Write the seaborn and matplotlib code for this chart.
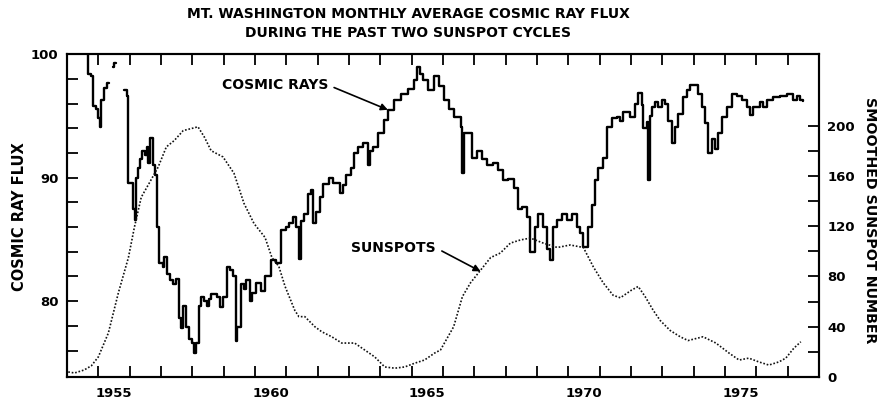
import numpy as np
import pandas as pd
import matplotlib
matplotlib.use('Agg')
import matplotlib.pyplot as plt
import seaborn as sns
from matplotlib.ticker import FixedLocator, FixedFormatter, NullFormatter

nan = np.nan

# Monthly cosmic ray flux (Mt. Washington); nan = data gap
cr_year = [
    1954.00, 1954.68, 1954.76, 1954.84, 1954.92,
    1955.00, 1955.04, 1955.10, 1955.19, 1955.27, 1955.35, nan, 1955.47, 1955.51, 1955.55, nan, 1955.83, 1955.90, 1955.96,
    1956.08, 1956.12, 1956.16, 1956.20, 1956.25, 1956.33, 1956.40, 1956.48, 1956.55, 1956.60, 1956.66, 1956.74, 1956.80, 1956.88, 1956.94,
    1957.05, 1957.10, 1957.20, 1957.28, 1957.38, 1957.48, 1957.58, 1957.64, 1957.69, 1957.79, 1957.88, 1957.98,
    1958.04, 1958.12, 1958.20, 1958.28, 1958.38, 1958.46, 1958.52, 1958.60, 1958.72, 1958.80, 1958.88, 1958.98,
    1959.10, 1959.20, 1959.30, 1959.38, 1959.44, 1959.55, 1959.64, 1959.72, 1959.84, 1959.92,
    1960.04, 1960.20, 1960.32, 1960.44, 1960.50, 1960.66, 1960.84,
    1961.00, 1961.10, 1961.20, 1961.32, 1961.42, 1961.48, 1961.55, 1961.68, 1961.80, 1961.86, 1961.94,
    1962.06, 1962.17, 1962.35, 1962.50, 1962.70, 1962.80, 1962.90,
    1963.06, 1963.15, 1963.28, 1963.44, 1963.60, 1963.68, 1963.76, 1963.92,
    1964.11, 1964.24, 1964.43, 1964.65, 1964.87,
    1965.06, 1965.16, 1965.26, 1965.35, 1965.51, 1965.70, 1965.86,
    1966.02, 1966.18, 1966.34, 1966.56, 1966.62, 1966.68, 1966.78, 1966.94,
    1967.10, 1967.26, 1967.42, 1967.58, 1967.74, 1967.90,
    1968.06, 1968.25, 1968.38, 1968.53, 1968.69, 1968.79, 1968.95,
    1969.04, 1969.20, 1969.33, 1969.43, 1969.52, 1969.65, 1969.81, 1969.97,
    1970.13, 1970.29, 1970.38, 1970.48, 1970.64, 1970.76, 1970.86, 1970.96,
    1971.11, 1971.24, 1971.40, 1971.56, 1971.66, 1971.75, 1971.97,
    1972.13, 1972.23, 1972.36, 1972.39, 1972.52, 1972.55, 1972.61, 1972.68, 1972.77, 1972.87, 1972.99,
    1973.09, 1973.18, 1973.31, 1973.41, 1973.50, 1973.66, 1973.79, 1973.89,
    1974.04, 1974.14, 1974.27, 1974.36, 1974.46, 1974.59, 1974.68, 1974.78, 1974.90,
    1975.06, 1975.22, 1975.38, 1975.54, 1975.70, 1975.80, 1975.89,
    1976.11, 1976.21, 1976.34, 1976.53, 1976.75, 1976.97,
    1977.17, 1977.29, 1977.39, 1977.48,
]
cr_flux = [
    101.5, 98.4, 98.2, 95.8, 95.6,
    94.8, 94.1, 96.3, 97.3, 97.7, 97.7, nan, 99.0, 99.3, 99.3, nan, 97.1, 96.6, 89.6,
    89.6, 87.5, 86.6, 90.0, 90.8, 91.5, 92.2, 91.8, 92.5, 91.2, 93.2, 91.0, 90.2, 86.0, 83.1,
    82.8, 83.6, 82.2, 81.7, 81.4, 81.8, 78.6, 77.8, 79.6, 77.9, 76.9, 76.6,
    75.8, 76.6, 79.6, 80.3, 80.0, 79.6, 80.2, 80.6, 80.6, 80.3, 79.5, 80.3,
    82.8, 82.5, 82.0, 76.8, 77.9, 81.4, 81.0, 81.7, 80.0, 80.7,
    81.5, 80.8, 82.0, 82.0, 83.3, 83.1, 85.8,
    86.0, 86.3, 86.8, 86.0, 83.4, 86.5, 87.1, 88.7, 89.0, 86.3, 87.2,
    88.4, 89.5, 90.0, 89.6, 88.8, 89.4, 90.2,
    90.8, 92.0, 92.5, 92.8, 91.0, 92.2, 92.5, 93.6,
    94.7, 95.5, 96.3, 96.8, 97.2,
    97.9, 99.0, 98.4, 97.9, 97.1, 98.2, 97.4,
    96.3, 95.6, 94.9, 94.1, 90.4, 93.6, 93.6, 91.6,
    92.2, 91.5, 91.0, 91.2, 90.6, 89.8,
    89.9, 89.2, 87.5, 87.6, 86.8, 84.0, 86.0,
    87.1, 86.0, 84.2, 83.3, 86.0, 86.6, 87.1, 86.6,
    87.1, 86.0, 85.5, 84.4, 86.0, 87.8, 89.8, 90.8,
    91.6, 94.1, 94.8, 94.9, 94.6, 95.3, 94.9,
    96.0, 96.9, 95.9, 94.0, 94.5, 89.8, 95.0, 95.7, 96.1, 95.7, 96.3,
    96.0, 94.6, 92.8, 94.1, 95.2, 96.5, 97.1, 97.5,
    97.5, 96.8, 95.7, 94.4, 92.0, 93.1, 92.3, 93.6, 94.9,
    95.7, 96.8, 96.6, 96.3, 95.7, 95.1, 95.7,
    96.1, 95.7, 96.3, 96.5, 96.6, 96.8,
    96.3, 96.6, 96.3, 96.2,
]

# Smoothed sunspot number
ss_year = [1954.04, 1954.24, 1954.55, 1954.78, 1955.00, 1955.32, 1955.64, 1955.96,
           1956.15, 1956.37, 1956.62, 1956.91, 1957.17, 1957.42, 1957.71, 1958.03,
           1958.18, 1958.38, 1958.60, 1958.98, 1959.33, 1959.65, 1959.97, 1960.32,
           1960.54, 1960.76, 1960.96, 1961.27, 1961.40, 1961.59, 1961.91, 1962.13,
           1962.45, 1962.77, 1963.18, 1963.50, 1963.82, 1964.14, 1964.46, 1964.78,
           1965.10, 1965.41, 1965.73, 1965.92, 1966.34, 1966.62, 1966.88, 1967.20,
           1967.52, 1967.83, 1968.15, 1968.47, 1968.79, 1969.20, 1969.65, 1970.06,
           1970.48, 1970.80, 1971.11, 1971.43, 1971.66, 1972.01, 1972.23, 1972.45,
           1972.71, 1972.93, 1973.25, 1973.57, 1973.82, 1974.30, 1974.71, 1975.13,
           1975.45, 1975.76, 1976.08, 1976.40, 1976.72, 1976.94, 1977.20, 1977.42]
ss_value = [4, 3.2, 5.6, 9, 16, 35, 67, 95,
            119, 143, 154, 167, 183, 188, 196, 198,
            199, 191, 180, 175, 162, 138, 122, 111,
            95, 88, 72, 53, 48, 48, 40, 36,
            32, 27, 27, 21.5, 16, 8, 7, 8,
            11, 13.5, 19, 21.5, 40, 64, 75, 85,
            95, 98.6, 106.5, 109, 110.5, 106.5, 103, 105,
            103, 87.5, 75, 65, 63, 69, 72, 64,
            53, 45, 37, 32, 29, 32, 27, 19,
            13.5, 15, 12, 9.5, 12, 15, 23, 28]

year_ticks = list(range(1954, 1979))
label_years = [1955, 1960, 1965, 1970, 1975]
year_labels = ['1955', '1960', '1965', '1970', '1975']
flux_labels = [80, 90, 100]
spot_labels = [0, 40, 80, 120, 160, 200]

assert len(cr_year) == len(cr_flux) and len(ss_year) == len(ss_value)

sns.set_style('ticks')
plt.rcParams['font.family'] = ['DejaVu Sans']
plt.rcParams['font.weight'] = 'bold'
for key in ('text.color', 'axes.labelcolor', 'xtick.color', 'ytick.color', 'axes.edgecolor'):
    plt.rcParams[key] = 'black'

fig = plt.figure(figsize=(8.94, 4.05), dpi=100)
ax = fig.add_axes([67 / 894, 28 / 405, 752 / 894, 323 / 405])
ax2 = ax.twinx()

cr = pd.DataFrame({'year': cr_year, 'flux': cr_flux})
cr['seg'] = cr['flux'].isna().cumsum()
cr = cr.dropna()
sns.lineplot(data=cr, x='year', y='flux', units='seg', estimator=None, sort=False,
             color='black', lw=1.7, drawstyle='steps-post', ax=ax)

ss = pd.DataFrame({'year': ss_year, 'spots': ss_value})
sns.lineplot(data=ss, x='year', y='spots', color='#111111', lw=1.2,
             linestyle=(0, (1, 1.1)), ax=ax2)

ax.set_xlim(1954, 1978)
ax.set_ylim(73.86, 100.02)
ax2.set_ylim(0, 256.9)
for a in (ax, ax2):
    a.set_xlabel('')
    a.set_ylabel('')
    for s in a.spines.values():
        s.set_visible(True)
        s.set_linewidth(1.5)
        s.set_color('black')

# years: ticks at year boundaries, labels centred in the year
ax.xaxis.set_major_locator(FixedLocator(year_ticks))
ax.xaxis.set_major_formatter(NullFormatter())
ax.xaxis.set_minor_locator(FixedLocator([y + 0.5 for y in label_years]))
ax.xaxis.set_minor_formatter(FixedFormatter(year_labels))
ax.tick_params(axis='x', which='major', direction='in', length=8, width=1.3, top=True, bottom=True)
ax.tick_params(axis='x', which='minor', length=0, pad=7, labelsize=9.5, top=False)

ax.yaxis.set_major_locator(FixedLocator(flux_labels))
ax.yaxis.set_minor_locator(FixedLocator(list(range(76, 101, 2))))
ax.yaxis.set_minor_formatter(NullFormatter())
ax.tick_params(axis='y', which='both', direction='in', length=8, width=1.3, left=True, right=False,
               labelsize=9.5, pad=6)

ax2.yaxis.set_major_locator(FixedLocator(spot_labels))
ax2.yaxis.set_minor_locator(FixedLocator(list(range(20, 200, 40))))
ax2.yaxis.set_minor_formatter(NullFormatter())
ax2.tick_params(axis='y', which='both', direction='in', length=8, width=1.3, right=True, left=False,
                labelsize=9.5, pad=6)

arrow = dict(arrowstyle='-|>', color='black', lw=1.2, mutation_scale=10,
             relpos=(1, 0.5), shrinkA=2, shrinkB=0)
ax.annotate('COSMIC RAYS', xy=(1964.24, 95.5), xytext=(1960.64, 97.5),
            ha='center', va='center', fontsize=10, fontweight='bold', arrowprops=arrow)
ax2.annotate('SUNSPOTS', xy=(1967.2, 84), xytext=(1964.43, 102.6),
             ha='center', va='center', fontsize=10, fontweight='bold', arrowprops=arrow)

fig.text(408 / 894, 1 - 14 / 405, 'MT. WASHINGTON MONTHLY AVERAGE COSMIC RAY FLUX',
         ha='center', va='center', fontsize=10, fontweight='bold')
fig.text(408 / 894, 1 - 33 / 405, 'DURING THE PAST TWO SUNSPOT CYCLES',
         ha='center', va='center', fontsize=10, fontweight='bold')
fig.text(20 / 894, 1 - 217 / 405, 'COSMIC RAY FLUX', rotation=90,
         ha='center', va='center', fontsize=10.5, fontweight='bold')
fig.text(870 / 894, 1 - 220 / 405, 'SMOOTHED SUNSPOT NUMBER', rotation=-90,
         ha='center', va='center', fontsize=10.3, fontweight='bold')

fig.savefig('out.png', dpi=100, facecolor='white')
